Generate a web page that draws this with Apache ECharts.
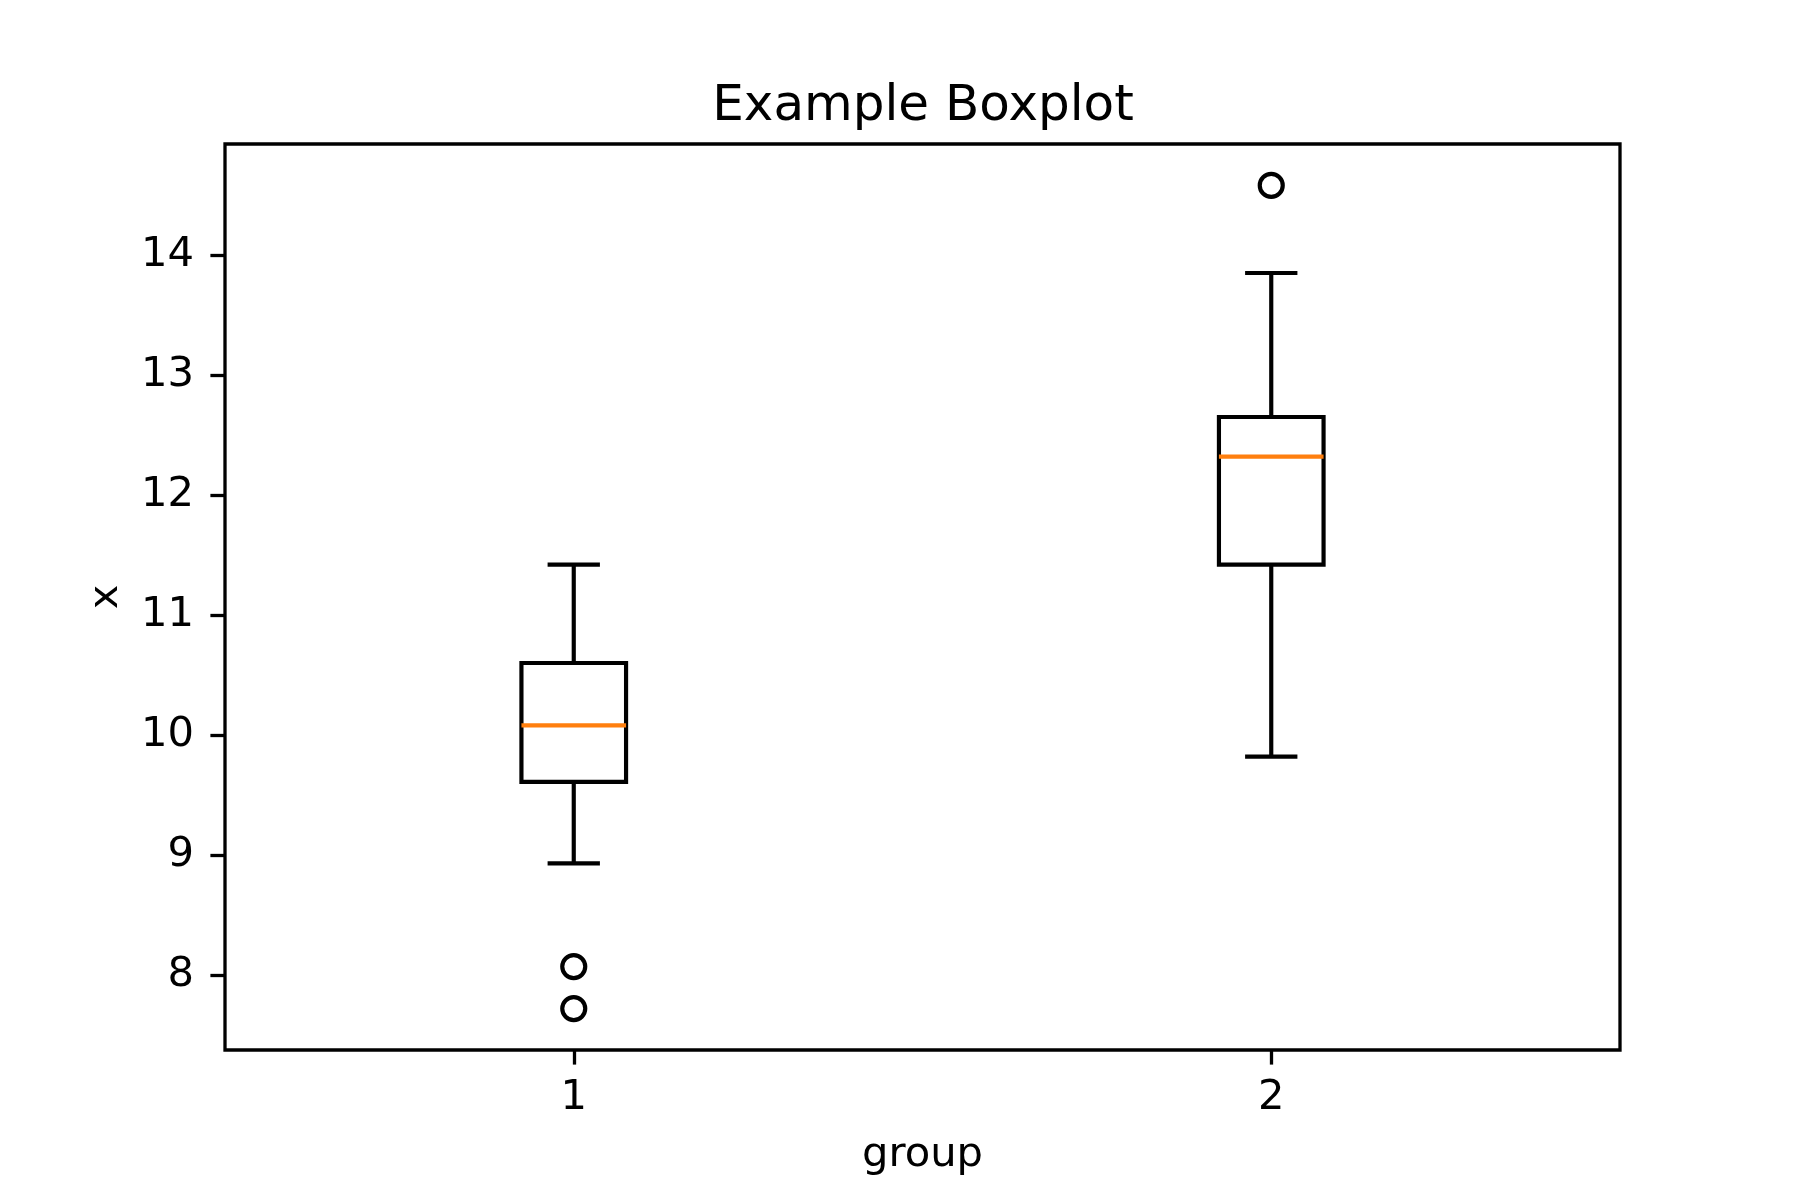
<!DOCTYPE html>
<html>
<head>
<meta charset="utf-8">
<script src="https://cdn.jsdelivr.net/npm/echarts@6/dist/echarts.min.js"></script>
<style>
html,body{margin:0;padding:0;background:#fff;}
#chart{width:1800px;height:1200px;}
</style>
</head>
<body>
<div id="chart"></div>
<script>
// ---- data ----
const categories = ['1', '2'];
const whiskerLow  = [8.93, 9.82];
const q1Values    = [9.61, 11.42];
const medians     = [10.08, 12.32];
const q3Values    = [10.60, 12.65];
const whiskerHigh = [11.42, 13.85];
const outlierGroup = [0, 0, 1];
const outlierValue = [8.07, 7.72, 14.58];
const yTicks = [8, 9, 10, 11, 12, 13, 14];
const yMin = 7.375, yMax = 14.925;

const boxData = categories.map((c, i) => [i, whiskerLow[i], q1Values[i], medians[i], q3Values[i], whiskerHigh[i]]);
const outlierData = outlierGroup.map((g, i) => [g, outlierValue[i]]);

const FONT = 'DejaVu Sans';
const LW = 4.17;

const chart = echarts.init(document.getElementById('chart'), null, {renderer: 'canvas'});
chart.setOption({
  animation: false,
  backgroundColor: '#ffffff',
  title: {
    text: 'Example Boxplot',
    left: 918, textAlign: 'center',
    top: 77,
    textStyle: {fontFamily: FONT, fontSize: 50, fontWeight: 'normal', color: '#000'}
  },
  grid: {
    left: 225, right: 180, top: 144, bottom: 150,
    show: true, borderColor: '#000', borderWidth: 3.3, backgroundColor: 'transparent',
    containLabel: false
  },
  xAxis: {
    type: 'category',
    data: categories,
    boundaryGap: true,
    name: 'group',
    nameLocation: 'middle',
    nameGap: 84,
    nameTextStyle: {fontFamily: FONT, fontSize: 41.7, color: '#000'},
    axisLine: {show: false},
    axisTick: {show: true, alignWithLabel: true, length: 14.6, inside: false, lineStyle: {color: '#000', width: 3.3}},
    axisLabel: {fontFamily: FONT, fontSize: 41.7, color: '#000', margin: 27},
    splitLine: {show: false}
  },
  yAxis: {
    type: 'value',
    min: yMin, max: yMax,
    name: 'x',
    nameLocation: 'middle',
    nameRotate: 90,
    nameGap: 98,
    nameTextStyle: {fontFamily: FONT, fontSize: 41.7, color: '#000'},
    axisLine: {show: false},
    axisTick: {show: true, length: 14.6, inside: false, customValues: yTicks, lineStyle: {color: '#000', width: 3.3}},
    axisLabel: {fontFamily: FONT, fontSize: 41.7, color: '#000', margin: 31, customValues: yTicks,
      formatter: v => String(v)},
    splitLine: {show: false}
  },
  series: [
    {
      type: 'custom',
      data: boxData,
      encode: {x: 0, y: [1, 2, 3, 4, 5]},
      renderItem: function (params, api) {
        const idx = api.value(0);
        const band = api.size([1, 0])[0];
        const bw = band * 0.15;
        const cw = bw / 2;
        const pLow = api.coord([idx, api.value(1)]);
        const pQ1 = api.coord([idx, api.value(2)]);
        const pMed = api.coord([idx, api.value(3)]);
        const pQ3 = api.coord([idx, api.value(4)]);
        const pHigh = api.coord([idx, api.value(5)]);
        const x = pQ1[0];
        const black = {stroke: '#000', lineWidth: LW, fill: null};
        return {
          type: 'group',
          children: [
            {type: 'line', shape: {x1: x, y1: pLow[1], x2: x, y2: pQ1[1]}, style: black},
            {type: 'line', shape: {x1: x, y1: pQ3[1], x2: x, y2: pHigh[1]}, style: black},
            {type: 'line', shape: {x1: x - cw / 2, y1: pLow[1], x2: x + cw / 2, y2: pLow[1]}, style: black},
            {type: 'line', shape: {x1: x - cw / 2, y1: pHigh[1], x2: x + cw / 2, y2: pHigh[1]}, style: black},
            {type: 'rect', shape: {x: x - bw / 2, y: pQ3[1], width: bw, height: pQ1[1] - pQ3[1]},
              style: {stroke: '#000', lineWidth: LW, fill: 'rgba(0,0,0,0)'}},
            {type: 'line', shape: {x1: x - bw / 2, y1: pMed[1], x2: x + bw / 2, y2: pMed[1]},
              style: {stroke: '#ff7f0e', lineWidth: LW}}
          ]
        };
      }
    },
    {
      type: 'scatter',
      data: outlierData,
      symbol: 'circle',
      symbolSize: 23,
      itemStyle: {color: 'rgba(0,0,0,0)', borderColor: '#000', borderWidth: 4.17, opacity: 1}
    }
  ]
});
</script>
</body>
</html>
